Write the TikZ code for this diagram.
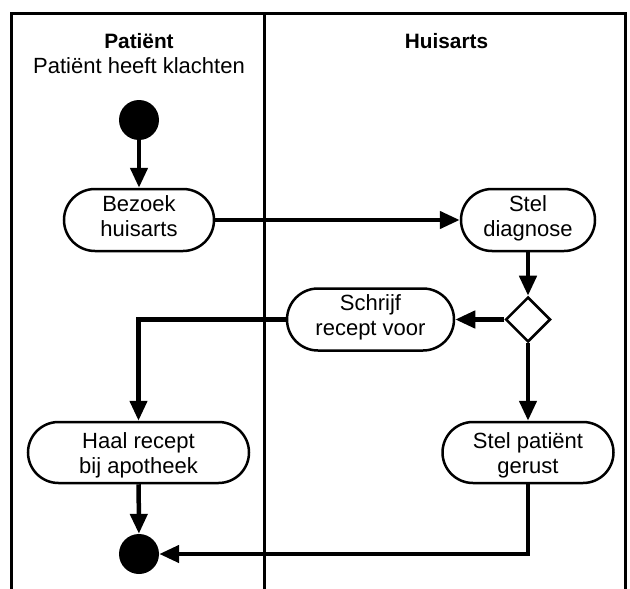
\documentclass[tikz,border=0pt]{standalone}
\usepackage{fontspec}
\setmainfont{Liberation Sans}
\usetikzlibrary{arrows.meta,shapes.geometric}
\begin{document}
\begin{tikzpicture}[x=1pt,y=-1pt,
  lane/.style={line width=2.5pt},
  lanetitle/.style={anchor=base, inner sep=0pt, font=\bfseries\fontsize{20.8}{25}\selectfont},
  lanesub/.style={anchor=base, inner sep=0pt, font=\fontsize{22}{25}\selectfont},
  act/.style={draw, line width=2.5pt, fill=white, align=center, inner sep=1pt,
    font=\fontsize{22}{25}\selectfont, text depth=3pt},
  toprow/.style={act, rounded corners=31pt, minimum width=#1, minimum height=62pt, text height=35pt},
  botrow/.style={act, rounded corners=30.5pt, minimum width=#1, minimum height=61pt, text height=44pt},
  dot/.style={circle, fill=black, minimum size=40pt, inner sep=0pt},
  decision/.style={diamond, draw, line width=2.5pt, fill=white, aspect=1, minimum width=45pt, minimum height=45pt, inner sep=0pt},
  flow/.style={line width=4.5pt, -{Triangle[length=20pt,width=17pt]}}
]
\useasboundingbox (0,0) rectangle (630,589);
% swimlane frame
\draw[lane] (11.5,589) -- (11.5,13.5) -- (625.5,13.5) -- (625.5,589);
\draw[lane] (264.5,13.5) -- (264.5,589);
% lane titles
\node[lanetitle] (tp) at (139,48) {Patiënt};
\node[lanesub] (tps) at (139,73) {Patiënt heeft klachten};
\node[lanetitle] (th) at (446.5,48) {Huisarts};
% nodes
\node[dot] (start) at (139,120) {};
\node[toprow=150pt] (bezoek) at (139,220) {Bezoek\\huisarts};
\node[toprow=134pt] (diag) at (528,220) {Stel\\diagnose};
\node[decision] (dec) at (528,319.5) {};
\node[toprow=167pt] (schrijf) at (370.5,319.5) {Schrijf\\recept voor};
\node[botrow=221pt] (haal) at (138.5,452.5) {Haal recept\\bij apotheek};
\node[botrow=171pt] (gerust) at (528,452.5) {Stel patiënt\\gerust};
\node[dot] (end) at (139,554) {};
% connectors
\draw[flow] (start) -- (bezoek);
\draw[flow] (bezoek) -- (diag);
\draw[flow] (diag) -- (dec);
\draw[flow] (dec) -- (schrijf);
\draw[flow] (schrijf.west) -| (haal.north);
\draw[flow] (dec) -- (gerust);
\draw[flow] (haal) -- (end);
\draw[flow] (gerust.south) |- (end.east);
\end{tikzpicture}
\end{document}
